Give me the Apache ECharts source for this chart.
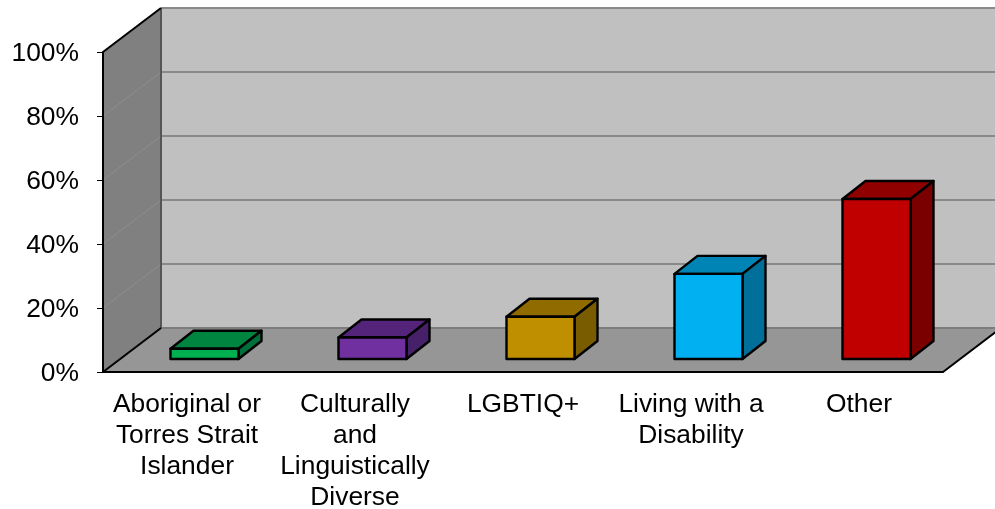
<!DOCTYPE html>
<html>
<head>
<meta charset="utf-8">
<style>html,body{margin:0;padding:0;background:#fff}#c{width:995px;height:509px}</style>
<script src="https://cdn.jsdelivr.net/npm/echarts@6/dist/echarts.min.js"></script>
</head>
<body>
<div id="c"></div>
<script>
var categories = ['Aboriginal or\nTorres Strait\nIslander', 'Culturally\nand\nLinguistically\nDiverse', 'LGBTIQ+', 'Living with a\nDisability', 'Other'];
var values = [3.2, 6.7, 13.2, 26.6, 50];
var frontColors = ['#00B050', '#7030A0', '#BF8F00', '#00B0F0', '#C00000'];
var topColors = ['#008540', '#54247A', '#8F6B00', '#0084B5', '#900000'];
var sideColors = ['#006F3B', '#47206A', '#7A5C00', '#006F9A', '#7A0000'];
var yTicks = [0, 20, 40, 60, 80, 100];

var WALL_DX = 58, WALL_DY = -44;
var BAR_DX = 23, BAR_DY = -18;
var OFF_X = 17.5, OFF_Y = -13;
var BAR_W = 68;

function poly(pts, fill, stroke, lw) {
  return { type: 'polygon', shape: { points: pts }, style: { fill: fill, stroke: stroke || null, lineWidth: lw || 0, lineJoin: 'round' } };
}
function line(a, b, color, w) {
  return { type: 'line', shape: { x1: a[0], y1: a[1], x2: b[0], y2: b[1] }, style: { stroke: color, lineWidth: w } };
}

function renderWalls(params, api) {
  var cs = params.coordSys;
  var L = cs.x, R = cs.x + cs.width;
  var yOf = function (v) { return api.coord([0, v])[1]; };
  var y0 = yOf(0), y100 = yOf(100);
  var ch = [];
  // back wall
  ch.push(poly([[L + WALL_DX, y100 + WALL_DY], [R + WALL_DX, y100 + WALL_DY], [R + WALL_DX, y0 + WALL_DY], [L + WALL_DX, y0 + WALL_DY]], '#C0C0C0'));
  // side wall
  ch.push(poly([[L, y100], [L + WALL_DX, y100 + WALL_DY], [L + WALL_DX, y0 + WALL_DY], [L, y0]], '#808080'));
  // floor
  ch.push(poly([[L, y0], [R, y0], [R + WALL_DX, y0 + WALL_DY], [L + WALL_DX, y0 + WALL_DY]], '#969696'));
  // gridlines
  yTicks.forEach(function (t) {
    var y = yOf(t);
    if (t > 0) {
      ch.push(line([L, y], [L + WALL_DX, y + WALL_DY], '#8E8E8E', 1));
      ch.push(line([L + WALL_DX, y + WALL_DY], [R + WALL_DX, y + WALL_DY], '#8A8A8A', 2));
    }
  });
  ch.push(line([L + WALL_DX, y0 + WALL_DY], [R + WALL_DX, y0 + WALL_DY], '#7C7C7C', 2));
  ch.push(line([L + WALL_DX, y100 + WALL_DY], [L + WALL_DX, y0 + WALL_DY], '#555555', 2));
  // black edges
  ch.push(line([L, y100], [L + WALL_DX, y100 + WALL_DY], '#000', 2));
  ch.push(line([L, y0], [L + WALL_DX, y0 + WALL_DY], '#000', 2));
  ch.push(line([R, y0], [R + WALL_DX, y0 + WALL_DY], '#000', 2));
  return { type: 'group', children: ch };
}

function renderBar(params, api) {
  var i = api.value(0), v = api.value(1);
  var base = api.coord([i, 0]), top = api.coord([i, v]);
  var x0 = base[0] + OFF_X - BAR_W / 2, x1 = x0 + BAR_W;
  var yb = base[1] + OFF_Y, yt = top[1] + OFF_Y;
  var k = '#000', lw = 2.4;
  return {
    type: 'group',
    children: [
      poly([[x0, yt], [x0 + BAR_DX, yt + BAR_DY], [x1 + BAR_DX, yt + BAR_DY], [x1, yt]], topColors[i], k, lw),
      poly([[x1, yt], [x1 + BAR_DX, yt + BAR_DY], [x1 + BAR_DX, yb + BAR_DY], [x1, yb]], sideColors[i], k, lw),
      poly([[x0, yt], [x1, yt], [x1, yb], [x0, yb]], frontColors[i], k, lw)
    ]
  };
}

var chart = echarts.init(document.getElementById('c'), null, { renderer: 'canvas' });
chart.setOption({
  animation: false,
  backgroundColor: '#fff',
  grid: { left: 103, right: 52, top: 52, bottom: 137, containLabel: false, outerBoundsMode: 'none' },
  xAxis: {
    type: 'category',
    data: categories,
    z: 10,
    axisLine: { lineStyle: { color: '#000', width: 2 } },
    axisTick: { length: 7, lineStyle: { color: '#000', width: 1 } },
    axisLabel: { interval: 0, color: '#000', fontFamily: 'Liberation Sans', fontSize: 26.4, lineHeight: 31, margin: 17 }
  },
  yAxis: {
    type: 'value',
    min: 0, max: 100, interval: 20,
    z: 10,
    axisLine: { show: true, lineStyle: { color: '#000', width: 2 } },
    axisTick: { show: true, length: 6, lineStyle: { color: '#000', width: 1 } },
    splitLine: { show: false },
    axisLabel: { color: '#000', fontFamily: 'Liberation Sans', fontSize: 26.4, lineHeight: 30, margin: 24, verticalAlign: 'bottom', padding: [0, 0, -17, 0], formatter: '{value}%' }
  },
  series: [
    { type: 'custom', z: 1, silent: true, renderItem: renderWalls, data: [[0, 0]], encode: { x: 0, y: 1 } },
    { type: 'custom', z: 2, renderItem: renderBar, data: values.map(function (v, i) { return [i, v]; }), encode: { x: 0, y: 1 } }
  ]
});
</script>
</body>
</html>
